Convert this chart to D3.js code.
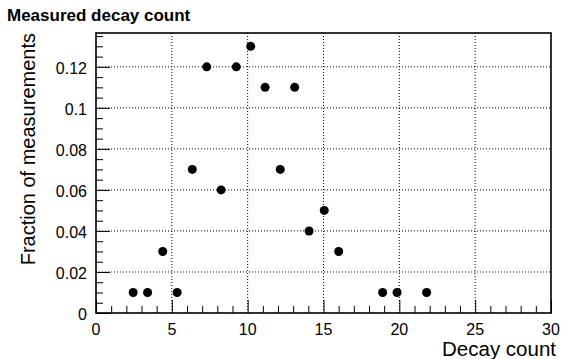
<!DOCTYPE html>
<html>
<head>
<meta charset="utf-8">
<script src="https://cdn.jsdelivr.net/npm/d3@7"></script>
<style>
  body { margin: 0; background: #fff; }
  text { font-family: "Liberation Sans", Arial, sans-serif; fill: #000; }
</style>
</head>
<body>
<svg id="chart" width="561" height="359"></svg>
<script>
// measured decay counts (bin centres) and fraction of measurements
const decayCount = [2.45, 3.4, 4.4, 5.35, 6.35, 7.3, 8.25, 9.25, 10.2, 11.15, 12.15, 13.1, 14.05, 15.05, 16.0, 18.9, 19.85, 21.8];
const fraction = [0.01, 0.01, 0.03, 0.01, 0.07, 0.12, 0.06, 0.12, 0.13, 0.11, 0.07, 0.11, 0.04, 0.05, 0.03, 0.01, 0.01, 0.01];
const xTicks = [0, 5, 10, 15, 20, 25, 30];
const yTicks = [0, 0.02, 0.04, 0.06, 0.08, 0.1, 0.12];
const yTickLabels = ["0", "0.02", "0.04", "0.06", "0.08", "0.1", "0.12"];

const margin = { top: 33, right: 10, bottom: 46, left: 96 };
const width = 561 - margin.left - margin.right;
const height = 359 - margin.top - margin.bottom;

const svg = d3.select("#chart");
const g = svg.append("g").attr("transform", `translate(${margin.left},${margin.top})`);

const x = d3.scaleLinear().domain([0, 30]).range([0, width]);
const y = d3.scaleLinear().domain([0, 0.1365]).range([height, 0]);

// grid
g.append("g")
  .selectAll("line")
  .data(xTicks.slice(1, -1))
  .join("line")
  .attr("x1", d => x(d)).attr("x2", d => x(d))
  .attr("y1", 0).attr("y2", height)
  .attr("stroke", "#000").attr("stroke-width", 1).attr("stroke-dasharray", "1,2");

g.append("g")
  .selectAll("line")
  .data(yTicks.slice(1))
  .join("line")
  .attr("x1", 0).attr("x2", width)
  .attr("y1", d => y(d)).attr("y2", d => y(d))
  .attr("stroke", "#000").attr("stroke-width", 1).attr("stroke-dasharray", "1,2");

// inward ticks
const xAxis = g.append("g").attr("transform", `translate(0,${height})`);
xAxis.call(d3.axisTop(x).tickValues(d3.range(0, 31, 1)).tickSize(7).tickFormat(""));
xAxis.selectAll(".tick line").filter(d => d % 5 === 0).attr("y2", -13);
xAxis.select(".domain").remove();

xAxis.selectAll(".lbl")
  .data(xTicks)
  .join("text")
  .attr("class", "lbl")
  .attr("x", d => x(d))
  .attr("y", 22)
  .attr("text-anchor", "middle")
  .attr("font-size", 16)
  .text(d => d);

const yAxis = g.append("g");
yAxis.call(d3.axisRight(y).tickValues(d3.range(0, 0.1366, 0.005)).tickSize(7).tickFormat(""));
yAxis.selectAll(".tick line").filter(d => Math.abs(Math.round(d / 0.02) * 0.02 - d) < 1e-6).attr("x2", 14);
yAxis.select(".domain").remove();

yAxis.selectAll(".lbl")
  .data(yTicks)
  .join("text")
  .attr("class", "lbl")
  .attr("x", -9)
  .attr("y", d => y(d) + 7)
  .attr("text-anchor", "end")
  .attr("font-size", 16)
  .text((d, i) => yTickLabels[i]);

// frame
g.append("rect")
  .attr("width", width).attr("height", height)
  .attr("fill", "none").attr("stroke", "#000").attr("stroke-width", 1.6);

// markers
g.append("g")
  .selectAll("circle")
  .data(decayCount)
  .join("circle")
  .attr("cx", d => x(d))
  .attr("cy", (d, i) => y(fraction[i]))
  .attr("r", 4.5)
  .attr("fill", "#000");

// titles
svg.append("text")
  .attr("x", 7).attr("y", 21)
  .attr("font-size", 17).attr("font-weight", "bold")
  .text("Measured decay count");

svg.append("text")
  .attr("x", 556).attr("y", 356)
  .attr("text-anchor", "end")
  .attr("font-size", 20.5)
  .text("Decay count");

svg.append("text")
  .attr("transform", `translate(35,${margin.top}) rotate(-90)`)
  .attr("text-anchor", "end")
  .attr("font-size", 20)
  .text("Fraction of measurements");
</script>
</body>
</html>
